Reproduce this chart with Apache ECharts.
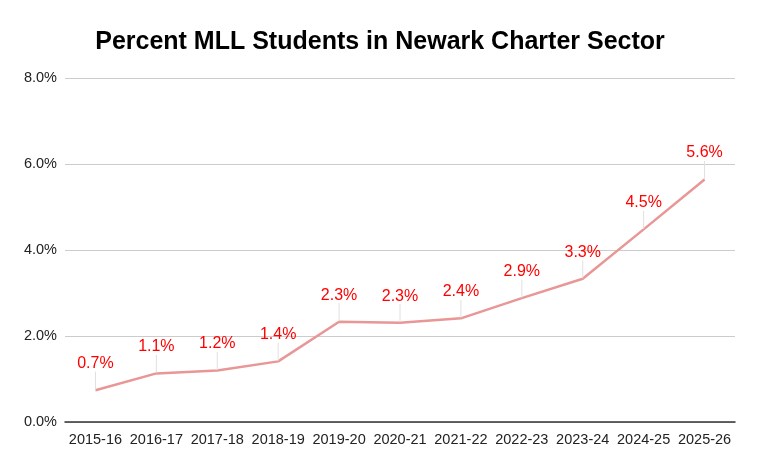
<!DOCTYPE html>
<html>
<head>
<meta charset="utf-8">
<script src="https://cdn.jsdelivr.net/npm/echarts@6/dist/echarts.min.js"></script>
<style>
  html, body { margin: 0; padding: 0; background: #fff; }
  #chart { width: 760px; height: 472px; }
</style>
</head>
<body>
<div id="chart"></div>
<script>
// 学年
var years = ['2015-16', '2016-17', '2017-18', '2018-19', '2019-20', '2020-21',
             '2021-22', '2022-23', '2023-24', '2024-25', '2025-26'];
// MLL 学生占比 (%)
var mllPercent = [0.74, 1.13, 1.2, 1.41, 2.33, 2.31, 2.41, 2.88, 3.33, 4.48, 5.64];
var yTicks = [0, 2, 4, 6, 8];

var myChart = echarts.init(document.getElementById('chart'));
var option = {
    backgroundColor: '#fff',
    animation: false,
    textStyle: { fontFamily: 'Liberation Sans, Arial, sans-serif' },
    title: {
        text: 'Percent MLL Students in Newark Charter Sector',
        left: 'center',
        top: 25,
        textStyle: { fontSize: 25, fontWeight: 'bold', color: '#000' }
    },
    grid: { left: 65, right: 25, top: 78, bottom: 50 },
    xAxis: {
        type: 'category',
        data: years,
        axisTick: { show: false },
        axisLine: { lineStyle: { color: '#333', width: 1.5 } },
        axisLabel: { color: '#222', fontSize: 14.5, margin: 10, interval: 0 }
    },
    yAxis: {
        type: 'value',
        min: yTicks[0],
        max: yTicks[yTicks.length - 1],
        interval: 2,
        axisLine: { show: false },
        axisTick: { show: false },
        splitLine: { lineStyle: { color: '#cccccc' } },
        axisLabel: {
            color: '#222',
            fontSize: 14.5,
            margin: 8,
            formatter: function (v) { return v.toFixed(1) + '%'; }
        }
    },
    series: [{
        type: 'line',
        data: mllPercent,
        symbol: 'circle',
        symbolSize: 1,
        showSymbol: true,
        itemStyle: { color: 'rgba(0,0,0,0)' },
        lineStyle: { color: '#e89696', width: 2.5 },
        label: {
            show: true,
            position: 'top',
            distance: 5,
            color: '#ff0000',
            fontSize: 16,
            formatter: function (p) { return p.value.toFixed(1) + '%'; }
        },
        labelLayout: { dy: -13 },
        labelLine: { show: true, lineStyle: { color: '#e0e0e0', width: 1 } }
    }]
};
myChart.setOption(option);
</script>
</body>
</html>
